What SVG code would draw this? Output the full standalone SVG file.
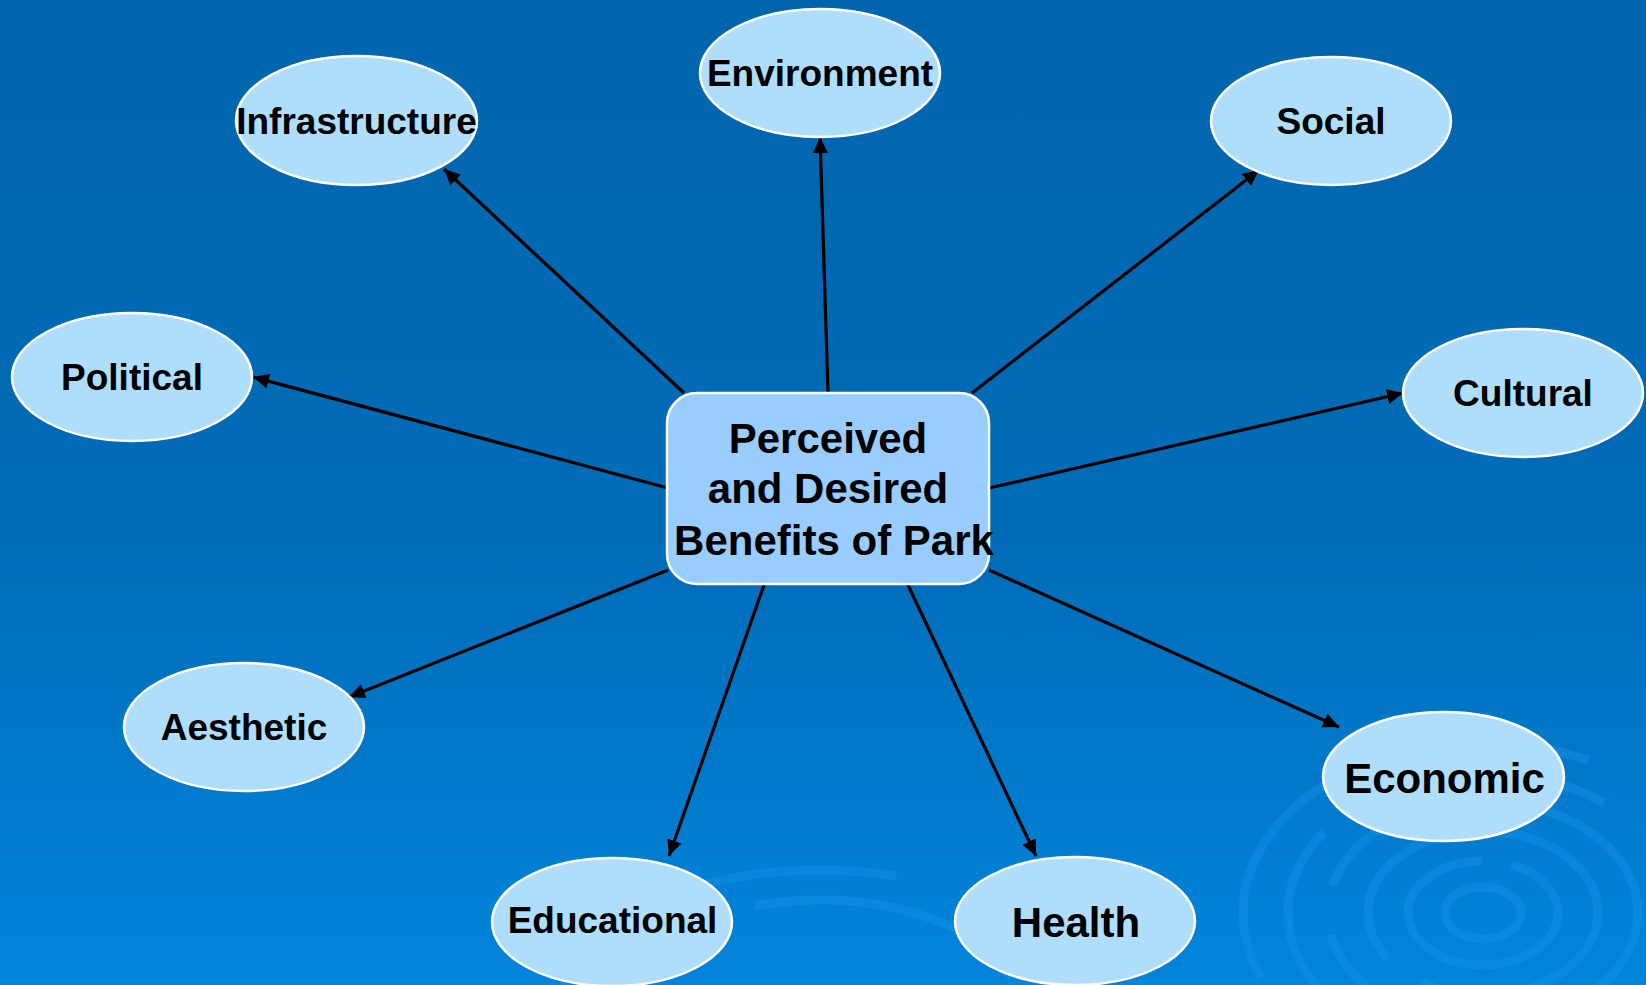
<svg xmlns="http://www.w3.org/2000/svg" width="1646" height="985" viewBox="0 0 1646 985">
<defs>
<linearGradient id="bg" x1="0" y1="0" x2="0" y2="1">
<stop offset="0" stop-color="#0065AD"/>
<stop offset="0.55" stop-color="#006CB8"/>
<stop offset="1" stop-color="#0085DC"/>
</linearGradient>
<marker id="ah" markerUnits="userSpaceOnUse" markerWidth="17" markerHeight="16" refX="16" refY="7.5" orient="auto">
<path d="M0,0 L16,7.5 L0,15 z" fill="#000"/>
</marker>
<style>
.node{fill:#AEDEFB;stroke:#FFFFFF;stroke-width:2.5}
.lbl{font-family:"Liberation Sans",Arial,sans-serif;font-weight:bold;font-size:37px;fill:#000;text-anchor:middle}
.big{font-size:42px}
.edge{stroke:#000;stroke-width:3.2;fill:none;marker-end:url(#ah)}
.ring{fill:none;stroke:#1592E8;stroke-opacity:0.45;stroke-width:9}
</style>
</defs>
<rect x="0" y="0" width="1646" height="985" fill="url(#bg)"/>
<g id="decor">
<ellipse class="ring" cx="1483" cy="913" rx="38" ry="26"/>
<ellipse class="ring" cx="1483" cy="913" rx="75" ry="52" stroke-dasharray="300 30"/>
<ellipse class="ring" cx="1483" cy="913" rx="115" ry="82" stroke-dasharray="220 40 160 30"/>
<ellipse class="ring" cx="1483" cy="913" rx="155" ry="112" stroke-dasharray="400 50"/>
<ellipse class="ring" cx="1483" cy="913" rx="195" ry="140" stroke-dasharray="260 60 300 40"/>
<ellipse class="ring" cx="1483" cy="913" rx="240" ry="170" stroke-dasharray="500 80"/>
<ellipse class="ring" cx="820" cy="1010" rx="200" ry="110" stroke-opacity="0.3" stroke-dasharray="280 60"/>
<ellipse class="ring" cx="820" cy="1010" rx="260" ry="140" stroke-opacity="0.3" stroke-dasharray="200 80"/>
</g>
<g id="connectors">
<line class="edge" x1="684" y1="393" x2="444" y2="169"/>
<line class="edge" x1="828" y1="393" x2="820" y2="137"/>
<line class="edge" x1="972" y1="393" x2="1259" y2="170"/>
<line class="edge" x1="668" y1="488" x2="253" y2="377"/>
<line class="edge" x1="989" y1="488" x2="1403" y2="393"/>
<line class="edge" x1="668" y1="570" x2="349" y2="697"/>
<line class="edge" x1="764" y1="585" x2="669" y2="856"/>
<line class="edge" x1="908" y1="585" x2="1036" y2="856"/>
<line class="edge" x1="989" y1="570" x2="1339" y2="727"/>
</g>
<g id="center">
<rect x="667" y="393" width="322" height="191" rx="30" ry="30" fill="#99CCFF" stroke="#FFFFFF" stroke-width="2.5"/>
<text class="lbl big" x="828" y="453">Perceived</text>
<text class="lbl big" x="828" y="503">and Desired</text>
<text class="lbl big" x="834" y="555">Benefits of Park</text>
</g>
<g id="environment">
<ellipse class="node" cx="820" cy="73" rx="120" ry="64"/>
<text class="lbl" x="820" y="86">Environment</text>
</g>
<g id="infrastructure">
<ellipse class="node" cx="356.5" cy="120.5" rx="120.5" ry="64.5"/>
<text class="lbl" x="356.5" y="134">Infrastructure</text>
</g>
<g id="social">
<ellipse class="node" cx="1331" cy="121" rx="120" ry="64"/>
<text class="lbl" x="1331" y="134">Social</text>
</g>
<g id="political">
<ellipse class="node" cx="132" cy="377" rx="120" ry="64"/>
<text class="lbl" x="132" y="390">Political</text>
</g>
<g id="cultural">
<ellipse class="node" cx="1523" cy="393" rx="120" ry="64"/>
<text class="lbl" x="1523" y="406">Cultural</text>
</g>
<g id="aesthetic">
<ellipse class="node" cx="244" cy="727" rx="120" ry="64"/>
<text class="lbl" x="244" y="740">Aesthetic</text>
</g>
<g id="economic">
<ellipse class="node" cx="1443.5" cy="776.5" rx="120.5" ry="64.5"/>
<text class="lbl big" x="1444.5" y="793">Economic</text>
</g>
<g id="health">
<ellipse class="node" cx="1075" cy="921" rx="120" ry="64"/>
<text class="lbl big" x="1076" y="937">Health</text>
</g>
<g id="educational">
<ellipse class="node" cx="612" cy="922" rx="120" ry="64"/>
<text class="lbl" x="612.5" y="933">Educational</text>
</g>
</svg>
